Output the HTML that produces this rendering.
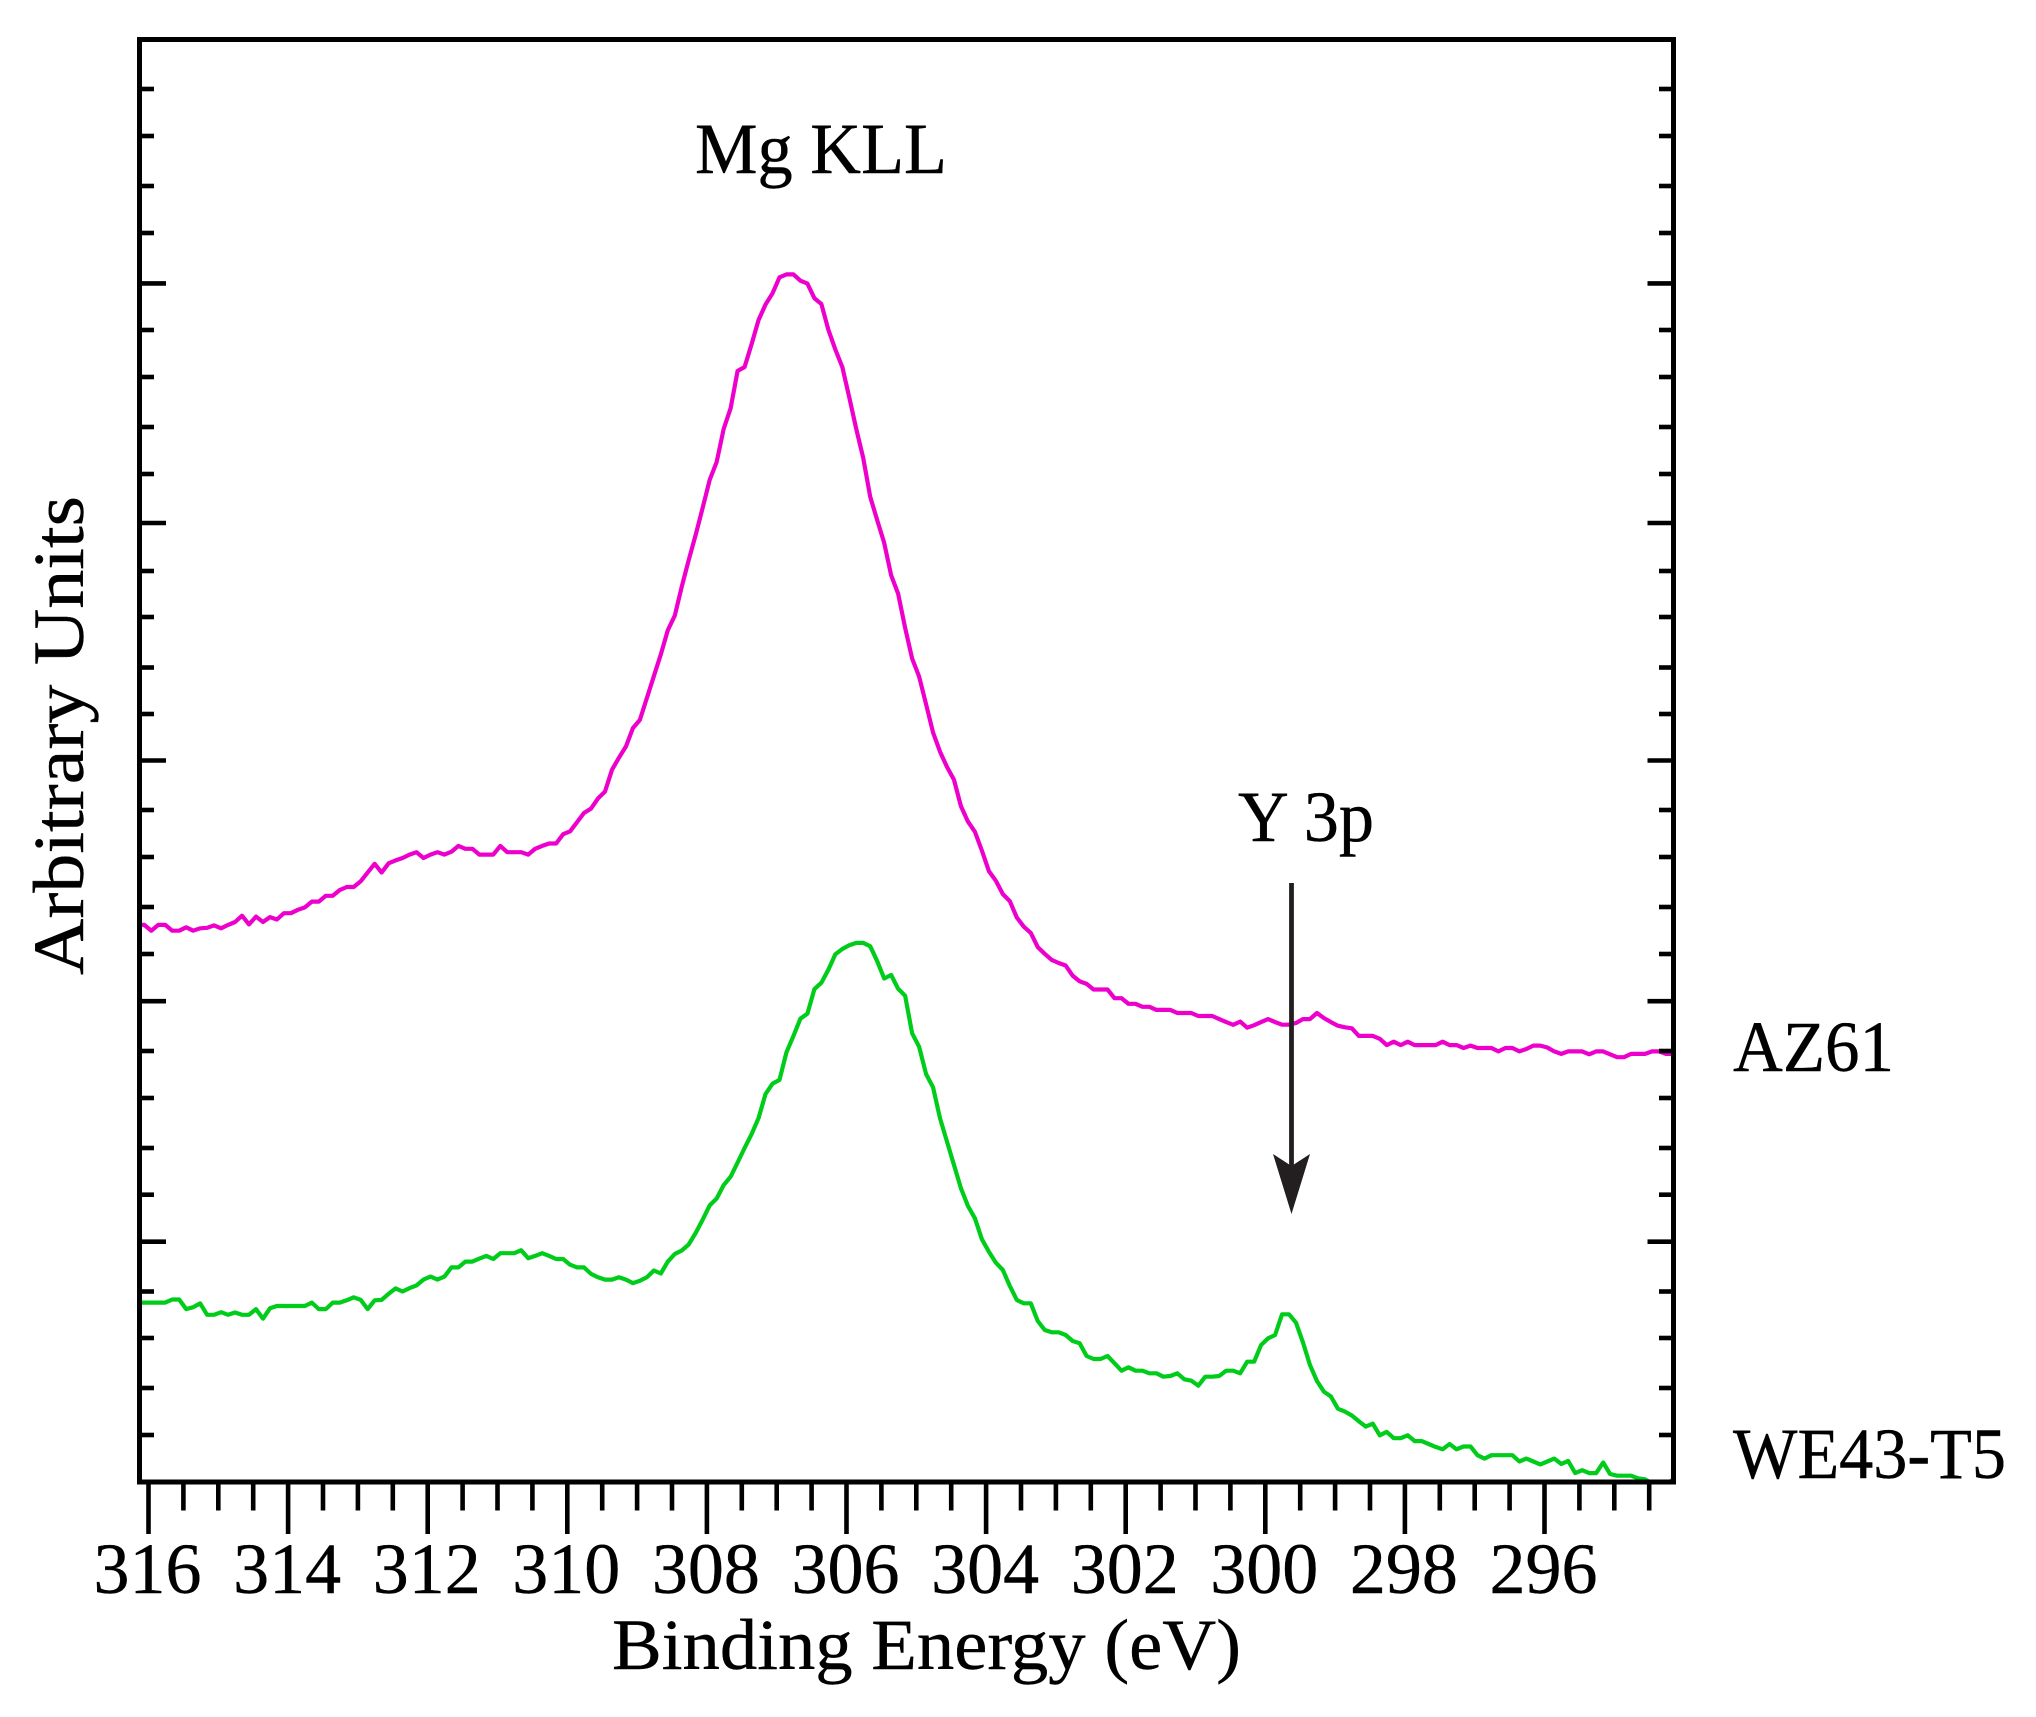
<!DOCTYPE html>
<html lang="en">
<head>
<meta charset="utf-8">
<title>Mg KLL and Y 3p binding energy spectra</title>
<style>
html,body{margin:0;padding:0;background:#fff;width:2036px;height:1717px;overflow:hidden}
svg{display:block;position:absolute;left:0;top:0}
text{font-family:"Liberation Serif",serif;fill:#000;font-size:72px;stroke:#000;stroke-width:0.4px}
</style>
</head>
<body>
<svg id="chart" xmlns="http://www.w3.org/2000/svg" width="2036" height="1717" viewBox="0 0 2036 1717">
  <rect x="0" y="0" width="2036" height="1717" fill="#fff"/>
  <defs>
    <clipPath id="plot-clip"><rect x="139.5" y="39.5" width="1534" height="1442.5"/></clipPath>
  </defs>
  <g id="series-layer" clip-path="url(#plot-clip)"></g>
  <g id="tick-layer"></g>
  <rect x="139.5" y="39.5" width="1534" height="1442.5" fill="none" stroke="#000" stroke-width="5"/>
  <g>
    <line x1="1291.5" y1="883" x2="1291.5" y2="1175" stroke="#231f20" stroke-width="4.8"/>
    <polygon points="1273,1154 1291.5,1166 1310,1154 1291.5,1214" fill="#231f20"/>
  </g>
  <text x="695" y="173" textLength="252" lengthAdjust="spacingAndGlyphs">Mg KLL</text>
  <text x="1238" y="841" textLength="136" lengthAdjust="spacingAndGlyphs">Y 3p</text>
  <text x="1733" y="1071" textLength="161" lengthAdjust="spacingAndGlyphs">AZ61</text>
  <text x="1733" y="1478" textLength="273" lengthAdjust="spacingAndGlyphs">WE43-T5</text>
  <text x="612" y="1669" textLength="629" lengthAdjust="spacingAndGlyphs">Binding Energy (eV)</text>
  <text transform="translate(83,975) rotate(-90)" x="0" y="0" textLength="479" lengthAdjust="spacingAndGlyphs">Arbitrary Units</text>
  <g id="label-layer"></g>
</svg>
<script>
const xMajorTicks = [316,314,312,310,308,306,304,302,300,298,296];
const xMinorTicks = [315.5,315,314.5,313.5,313,312.5,311.5,311,310.5,309.5,309,308.5,307.5,307,306.5,305.5,305,304.5,303.5,303,302.5,301.5,301,300.5,299.5,299,298.5,297.5,297,296.5,295.5,295,294.5];
const yMajorTicks = [1198.1,958.5,721,480.3,239.8];
const yMinorTicks = [1392.5,1345.5,1295.5,1248.5,1151.5,1104.5,1054.5,1007.5,910.5,864.5,814,767.5,671.5,624.5,574.5,527.5,430.5,383.5,333.5,286.8,190,143.5,93.5,46.5];
const energies = [
316.16,316.06,315.96,315.86,315.76,315.66,315.56,315.46,315.36,315.26,
315.16,315.06,314.96,314.86,314.76,314.66,314.56,314.46,314.36,314.26,
314.16,314.06,313.96,313.86,313.76,313.66,313.56,313.46,313.36,313.26,
313.16,313.06,312.96,312.86,312.76,312.66,312.56,312.46,312.36,312.26,
312.16,312.06,311.96,311.86,311.76,311.66,311.56,311.46,311.36,311.26,
311.16,311.06,310.96,310.86,310.76,310.66,310.56,310.46,310.36,310.26,
310.16,310.06,309.96,309.86,309.76,309.66,309.56,309.46,309.36,309.26,
309.16,309.06,308.96,308.86,308.76,308.66,308.56,308.46,308.36,308.26,
308.16,308.06,307.96,307.86,307.76,307.66,307.56,307.46,307.36,307.26,
307.16,307.06,306.96,306.86,306.76,306.66,306.56,306.46,306.36,306.26,
306.16,306.06,305.96,305.86,305.76,305.66,305.56,305.46,305.36,305.26,
305.16,305.06,304.96,304.86,304.76,304.66,304.56,304.46,304.36,304.26,
304.16,304.06,303.96,303.86,303.76,303.66,303.56,303.46,303.36,303.26,
303.16,303.06,302.96,302.86,302.76,302.66,302.56,302.46,302.36,302.26,
302.16,302.06,301.96,301.86,301.76,301.66,301.56,301.46,301.36,301.26,
301.16,301.06,300.96,300.86,300.76,300.66,300.56,300.46,300.36,300.26,
300.16,300.06,299.96,299.86,299.76,299.66,299.56,299.46,299.36,299.26,
299.16,299.06,298.96,298.86,298.76,298.66,298.56,298.46,298.36,298.26,
298.16,298.06,297.96,297.86,297.76,297.66,297.56,297.46,297.36,297.26,
297.16,297.06,296.96,296.86,296.76,296.66,296.56,296.46,296.36,296.26,
296.16,296.06,295.96,295.86,295.76,295.66,295.56,295.46,295.36,295.26,
295.16,295.06,294.96,294.86,294.76,294.66,294.56,294.46,294.36,294.26,
294.16];
const az61Intensity = [
556.6,556.6,550.8,556.6,556.6,550.8,550.8,554.2,550.8,553.2,
553.7,556.1,553.2,556.6,559.5,565.8,557.1,564.9,559.5,564.4,
562,568.3,568.3,571.7,574.1,579.9,579.9,585.7,585.7,591.5,
594.5,594.5,600.2,609,617.7,609,618.2,621.1,623.5,626.9,
629.3,623.5,626.9,629.3,626.9,629.8,635.6,632.7,632.7,626.9,
626.9,626.9,635.6,629.3,629.3,629.3,626.9,632.7,635.6,638,
638,647.3,650.2,659.4,668.6,672.9,683.1,689.9,711.7,723.8,
735,753.4,761.6,783.5,805.3,827.1,851.3,865.9,894.9,921.6,
946.8,973.9,1001.6,1019.5,1052.5,1073.3,1110.6,1114.5,1137.3,1161.5,
1177,1188.2,1204.2,1207.1,1207.1,1200.8,1197.9,1183.3,1177.5,1151.8,
1132,1114.5,1084,1052.5,1023.4,984.6,961.3,938.6,906.1,887.7,
853.7,823,805,777.2,749,729.8,714.5,701.7,675.2,659.9,
649.7,630.8,610.4,600.7,587.4,580.3,564,554.8,548.6,534.4,
527.7,521.6,518.5,516,505.8,500.2,497.6,492,492,492,
483.3,483.3,477.7,477.7,474.7,474.7,471.6,471.6,471.6,468.5,
468.5,468.5,465.5,465.5,465.5,462.4,459.4,456.7,459.9,453.8,
456.3,459.4,462.4,459.4,456.8,456.8,458.5,462.4,462.4,468.5,
463.4,459.4,455.8,454.2,453.2,445.6,445.6,445.6,442.7,436.4,
439.8,436.4,439.8,436.4,436.4,436.4,436.4,439.8,436.4,436.4,
433.5,435.9,433.5,433.5,433.5,430.1,433.5,433.5,430.1,432.5,
435.9,435.9,434,430.1,427.6,430.1,430.1,430.1,427.2,430.1,
430.1,427.2,424.3,424.3,427.6,427.6,427.6,430.1,430.1,427.6,
427.6];
const we43Intensity = [
178.9,178.9,178.9,178.9,178.9,182,182,172.4,174.3,178.1,
166.7,166.7,169.3,166.7,169,166.7,166.7,172.4,162.8,173.2,
175.5,175.5,175.5,175.5,175.5,178.9,172.4,172.4,178.9,178.9,
181.2,184.2,181.6,172.4,181.2,181.6,187.7,193.1,190,193.4,
196.1,201.9,204.9,201.9,204.9,214.1,214.1,219.9,219.9,222.9,
225.6,222.5,228.3,228.3,228.3,231.3,223.3,225.6,228.3,225.6,
222.5,222.5,216.8,214.1,214.1,207.6,204.2,201.9,201.9,204.2,
201.9,198.4,200.7,204.2,211,208,219.9,227.5,231,237.1,
248.6,261.9,276.1,283,296.4,304.8,319,333.5,347.3,363.4,
387.5,397.8,401.6,429.2,445.6,462.9,467.8,492.3,498.8,511.8,
527.2,532.5,536.3,538.6,538.6,535.2,520.3,503,506.5,492.7,
485.8,448.2,434.8,407.5,394.2,363.2,339.8,316.5,293.2,275.5,
263.2,242.2,229.8,218.8,211.5,195.5,181.5,178.2,178.2,160.5,
151.5,149.2,149.2,146.5,140.5,138.2,125.5,122.5,122.5,125.5,
118.2,110.8,114.2,110.8,110.8,108.2,108.2,104.8,105.5,108.2,
102.2,100.8,95.8,104.8,104.8,105.5,110.8,110.8,108.2,119.8,
119.8,136.5,143.2,146.5,167.2,167.2,158.8,139,116.5,100.5,
89.8,85,72.8,69.9,66,60.2,54.9,57.8,46.2,49.6,
43.3,43.3,46.2,40.4,40.4,37.5,34.6,32.2,37.5,32.2,
35,35,26.3,22.9,26.3,26.3,26.3,26.3,20,22.9,
20,17.1,20,22.9,17.6,20.5,8.4,11.3,8.4,8.4,
19,7.5,5.8,5.8,5.8,3.2,2.2,-2,-6,-3,
2];

const SVG_NS = 'http://www.w3.org/2000/svg';
function xScale(energy){ return 148.5 + (316 - energy) * 69.8; }
function yScale(value){ return 1481.5 - value; }

function make(tag, parent){
  const el = document.createElementNS(SVG_NS, tag);
  parent.appendChild(el);
  return el;
}
function setTickLine(el, x1, y1, x2, y2){
  el.setAttribute('x1', x1);
  el.setAttribute('y1', y1);
  el.setAttribute('x2', x2);
  el.setAttribute('y2', y2);
  el.setAttribute('stroke', '#000');
  el.setAttribute('stroke-width', '4.6');
}

const tickLayer = document.getElementById('tick-layer');
const labelLayer = document.getElementById('label-layer');
const seriesLayer = document.getElementById('series-layer');

xMajorTicks.forEach(function(v){
  const t = make('line', tickLayer);
  
  
  setTickLine(t, xScale(v), 1482, xScale(v), 1534);
  const lab = make('text', labelLayer);
  
  
  lab.setAttribute('x', xScale(v) - 1);
  lab.setAttribute('y', 1593);
  lab.setAttribute('text-anchor', 'middle');
  lab.textContent = String(v);
});
xMinorTicks.forEach(function(v){
  const t = make('line', tickLayer);
  
  
  setTickLine(t, xScale(v), 1482, xScale(v), 1510.5);
});
yMajorTicks.forEach(function(v){
  const l = make('line', tickLayer);
  
  
  setTickLine(l, 139.5, yScale(v), 166, yScale(v));
  const r = make('line', tickLayer);
  
  
  setTickLine(r, 1647.5, yScale(v), 1673.5, yScale(v));
});
yMinorTicks.forEach(function(v){
  const l = make('line', tickLayer);
  
  
  setTickLine(l, 139.5, yScale(v), 154, yScale(v));
  const r = make('line', tickLayer);
  
  
  setTickLine(r, 1659, yScale(v), 1673.5, yScale(v));
});

function pointsFor(values){
  return values.map(function(v, i){
    return xScale(energies[i]).toFixed(2) + ',' + yScale(v).toFixed(2);
  }).join(' ');
}

const az61Line = make('polyline', seriesLayer);


az61Line.setAttribute('points', pointsFor(az61Intensity));
az61Line.setAttribute('fill', 'none');
az61Line.setAttribute('stroke', '#ee00cc');
az61Line.setAttribute('stroke-width', '4.2');
az61Line.setAttribute('stroke-linejoin', 'round');

const we43Line = make('polyline', seriesLayer);


we43Line.setAttribute('points', pointsFor(we43Intensity));
we43Line.setAttribute('fill', 'none');
we43Line.setAttribute('stroke', '#00cc1a');
we43Line.setAttribute('stroke-width', '4.2');
we43Line.setAttribute('stroke-linejoin', 'round');
</script>
</body>
</html>
